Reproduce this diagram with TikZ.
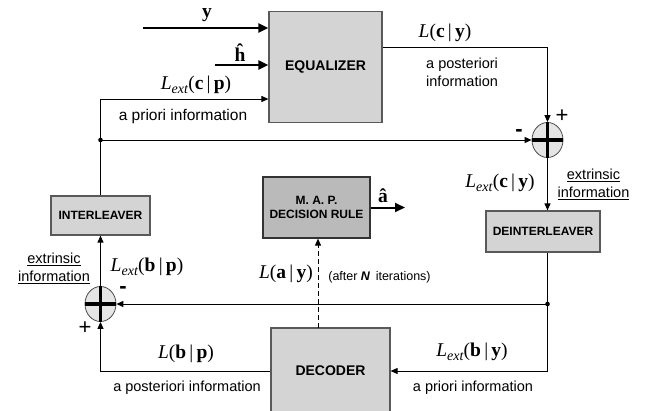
\documentclass[tikz,border=0pt]{standalone}
\usepackage{fontspec}
\setmainfont{Liberation Sans}
\newfontfamily\serifL{Liberation Serif}
\usetikzlibrary{arrows.meta,shapes.geometric,calc}
\newcommand\Lext[2]{{\serifL\fontsize{19.5}{20}\selectfont\textit{L}\raisebox{-0.22em}{\fontsize{14}{14}\selectfont\textit{ext}}(\textbf{#1}\,|\,\textbf{#2})}}
\newcommand\Lpl[2]{{\serifL\fontsize{19.5}{20}\selectfont\textit{L}(\textbf{#1}\,|\,\textbf{#2})}}
\begin{document}
\begin{tikzpicture}[x=1pt,y=-1pt,
  blk/.style={draw=black!65, line width=1.2pt, fill=black!17, inner sep=0pt, font=\bfseries\fontsize{12}{14}\selectfont, align=center},
  sumnode/.style={ellipse, draw=black!70, fill=black!10, minimum width=31pt, minimum height=35pt, inner sep=0pt, line width=0.8pt},
  conn/.style={line width=1pt, -{Triangle[length=7pt,width=6pt]}},
  thickconn/.style={line width=2pt, -{Triangle[length=10pt,width=9pt]}},
  plain/.style={line width=1pt},
  lbl/.style={inner sep=0pt, font=\fontsize{14.5}{18}\selectfont},
  ml/.style={inner sep=0pt, font=\serifL\fontsize{19.5}{20}\selectfont},
  sg/.style={inner sep=0pt, font=\fontsize{22}{22}\selectfont},
]
\fill[white] (0,0) rectangle (655,410);
\useasboundingbox (0,0) rectangle (655,410);

% blocks
\node[blk, minimum width=113pt, minimum height=111pt, font=\bfseries\fontsize{14}{15}\selectfont] (eq) at (325.5,67) {EQUALIZER};
\node[blk, minimum width=99pt, minimum height=39pt] (inter) at (100.5,215.5) {INTERLEAVER};
\node[blk, minimum width=114pt, minimum height=41pt] (deint) at (543,231.5) {DEINTERLEAVER};
\node[blk, fill=black!27, draw=black!80, minimum width=107pt, minimum height=61pt] (map) at (316.5,207.5) {M. A. P.\\DECISION RULE};
\node[blk, minimum width=119pt, minimum height=86pt, font=\bfseries\fontsize{14}{15}\selectfont] (dec) at (330.5,371) {DECODER};

% summers
\node[sumnode] (s1) at (547.5,140) {};
\node[sumnode] (s2) at (100.5,304) {};
\foreach \s in {s1,s2} \draw[line width=3.5pt] (\s.west)--(\s.east) (\s.north)--(\s.south);

% coordinates
\coordinate (yin) at (143,28);
\coordinate (hin) at (215,65);
\coordinate (j1) at (100.5,140);
\coordinate (cp) at (100.5,99);
\coordinate (eqo) at (eq.east |- 0,47);
\coordinate (j2) at (547.5,304);
\coordinate (da) at (318,328);
\coordinate (aout) at (405,207.5);

% connectors
\draw[thickconn] (yin) -- (yin -| eq.west);
\draw[thickconn] (hin) -- (hin -| eq.west);
\draw[conn] (j1) -- (cp) -- (cp -| eq.west);
\draw[plain] (j1) -- (inter.north);
\fill (j1) circle (2.3pt);
\draw[conn] (j1) -- (s1.west);
\draw[conn] (eqo) -| (s1.north);
\draw[conn] (s1.south) -- (s1.south |- deint.north);
\draw[plain] (j2 |- deint.south) -- (j2);
\fill (j2) circle (2.3pt);
\draw[conn] (j2) |- (dec.east);
\draw[conn] (j2) -- (s2.east);
\draw[conn] (s2.north) -- (inter.south);
\draw[conn] (dec.west) -| (s2.south);
\draw[conn, dash pattern=on 5pt off 3pt] (da) -- (da |- map.south);
\draw[thickconn] (map.east) -- (aout);

% labels
\node[ml] (ylbl) at (207,15) {\textbf{y}};
\node[ml] (hlbl) at (240,53) {\textbf{ĥ}};
\node[ml] (lcp) at (196,85) {\Lext{c}{p}};
\node[lbl, font=\fontsize{15.5}{18}\selectfont] (t1) at (183,116) {a priori information};
\node[ml] (lcy) at (445,33) {\Lpl{c}{y}};
\node[lbl, align=left, anchor=west] (t2) at (426,72) {a posteriori\\information};
\node[sg] (p1) at (562,116) {+};
\node[sg] (m1) at (519,133) {\textbf{-}};
\node[ml] (lecy) at (500,183) {\Lext{c}{y}};
\node[lbl] (e1a) at (593.5,175) {\underline{extrinsic}};
\node[lbl] (e1b) at (593.5,193) {\underline{information}};
\node[ml] (leby) at (472,352) {\Lext{b}{y}};
\node[lbl] (t3) at (473,388) {a priori information};
\node[ml] (lay) at (286,274) {\Lpl{a}{y}};
\node[lbl, font=\fontsize{12.5}{13}\selectfont] (t4) at (379.5,277) {(after \textbf{\textit{N}}\, iterations)};
\node[ml] (ahl) at (383,196) {\textbf{â}};
\node[ml] (lebp) at (147,267) {\Lext{b}{p}};
\node[lbl] (e2a) at (54,259) {\underline{extrinsic}};
\node[lbl] (e2b) at (54,277) {\underline{information}};
\node[sg] (m2) at (123,290) {\textbf{-}};
\node[sg] (p2) at (85,328) {+};
\node[ml] (lbp) at (186,354) {\Lpl{b}{p}};
\node[lbl] (t5) at (187,388) {a posteriori information};
\end{tikzpicture}
\end{document}
